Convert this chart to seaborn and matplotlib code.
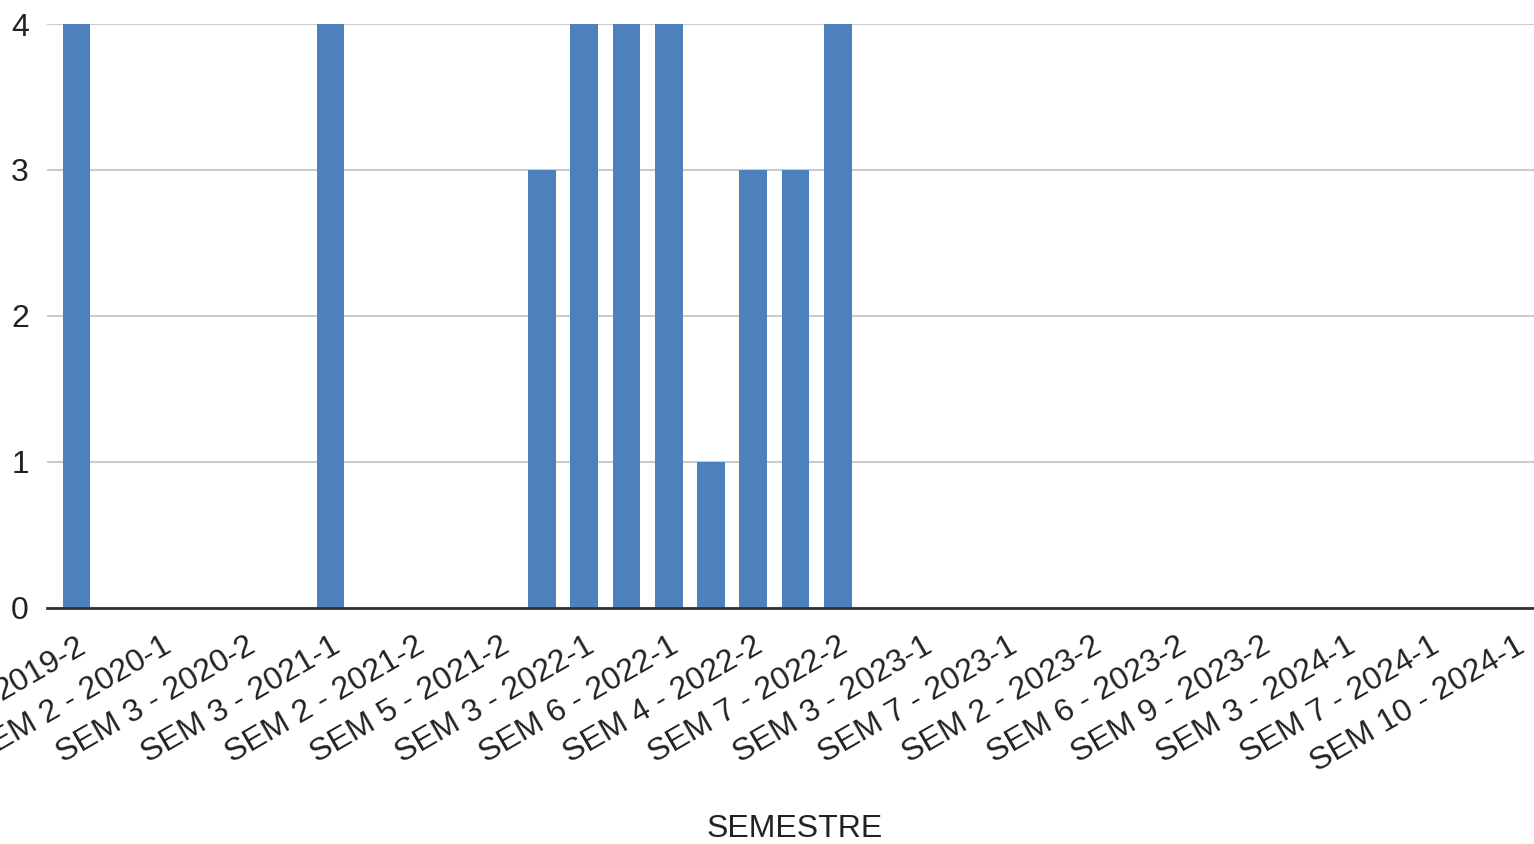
import seaborn as sns
import matplotlib.pyplot as plt
import matplotlib.transforms as mtransforms
import pandas as pd

# 35 semestres no eixo; o gráfico só rotula um a cada dois
valores = [4, 0, 0, 0, 0, 0, 4, 0, 0, 0, 0, 3, 4, 4, 4, 1, 3, 3, 4,
           0, 0, 0, 0, 0, 0, 0, 0, 0, 0, 0, 0, 0, 0, 0, 0]
rotulos = ["2019-2", "SEM 2 - 2020-1", "SEM 3 - 2020-2", "SEM 3 - 2021-1",
           "SEM 2 - 2021-2", "SEM 5 - 2021-2", "SEM 3 - 2022-1", "SEM 6 - 2022-1",
           "SEM 4 - 2022-2", "SEM 7 - 2022-2", "SEM 3 - 2023-1", "SEM 7 - 2023-1",
           "SEM 2 - 2023-2", "SEM 6 - 2023-2", "SEM 9 - 2023-2", "SEM 3 - 2024-1",
           "SEM 7 - 2024-1", "SEM 10 - 2024-1"]

df = pd.DataFrame({"pos": range(len(valores)), "qtd": valores})

sns.set_style("white")
plt.rcParams["font.family"] = ["Liberation Sans", "DejaVu Sans"]

W, H = 1534, 844
fig = plt.figure(figsize=(W / 100, H / 100), dpi=100)
ax = fig.add_axes([47 / W, 1 - 607.7 / H, (1534 - 47) / W, (607.7 - 24) / H])

sns.barplot(data=df, x="pos", y="qtd", color="#4e80bc", saturation=1,
            width=0.655, linewidth=0, ax=ax, zorder=3)

ax.set_xlim(-0.70, 34.46)
ax.set_ylim(0, 4)
ax.set_yticks([0, 1, 2, 3, 4])
ax.set_yticklabels(["0", "1", "2", "3", "4"])
ax.yaxis.grid(True, color="#cccccc", lw=1.5, zorder=0)
ax.set_axisbelow(True)
for s in ["top", "right", "left"]:
    ax.spines[s].set_visible(False)
ax.spines["bottom"].set_color("#333333")
ax.spines["bottom"].set_linewidth(2)
ax.spines["bottom"].set_zorder(4)

ax.set_xticks(range(0, len(valores), 2))
ax.set_xticklabels(rotulos, rotation=30, ha="right", va="top",
                   rotation_mode="anchor", fontsize=23, color="#222222")
desloc = mtransforms.ScaledTranslation(0.16, 0, fig.dpi_scale_trans)
for t in ax.get_xticklabels():
    t.set_transform(t.get_transform() + desloc)
ax.tick_params(axis="x", length=0, pad=17)
ax.tick_params(axis="y", length=0, pad=13, labelsize=23, labelcolor="#222222")
ax.set_xlabel("")
ax.set_ylabel("")

fig.text(795 / W, 1 - 829 / H, "SEMESTRE", ha="center", va="center",
         fontsize=23, color="#222222")

fig.savefig("out.png", dpi=100)
